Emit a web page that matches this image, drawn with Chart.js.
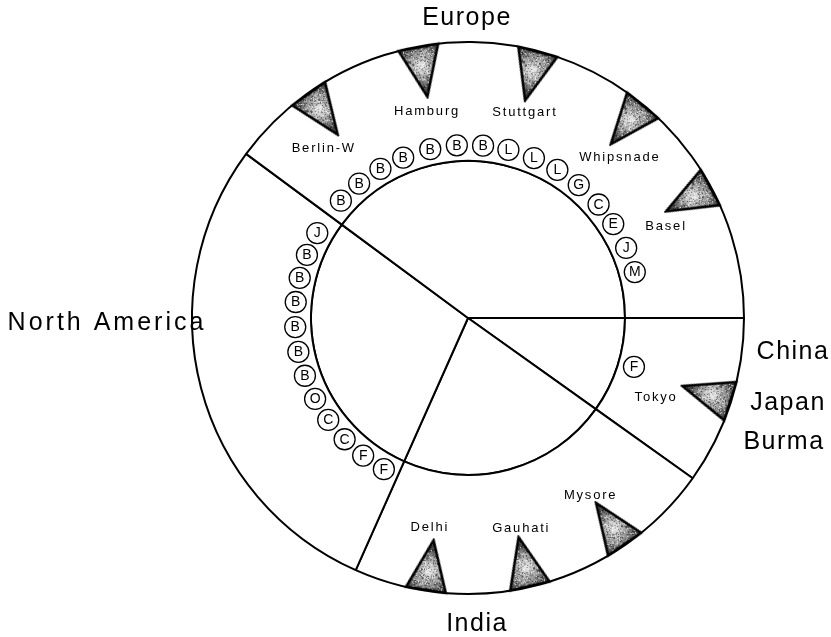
<!DOCTYPE html>
<html>
<head>
<meta charset="utf-8">
<script src="https://cdn.jsdelivr.net/npm/chart.js@4.4.0/dist/chart.umd.min.js"></script>
<style>
html, body { margin: 0; padding: 0; background: #fff; }
#wrap { position: relative; width: 831px; height: 637px; }
#wrap canvas { position: absolute; left: 0; top: 0; }
</style>
</head>
<body>
<div id="wrap">
  <canvas id="ring" width="831" height="637"></canvas>
  <canvas id="marks" width="831" height="637"></canvas>
</div>
<script>
// Zoo ring diagram: regions as sectors, zoos as triangles, animals as circled letters

// Regions, clockwise from 3 o'clock, and the share of the ring each one takes (degrees)
const regions = ['China / Japan / Burma', 'India', 'North America', 'Europe'];
const regionSpan = [35.5, 78.5, 102.5, 143.5];

// Zoos (triangles) and where they sit round the ring (degrees, anticlockwise from 3 o'clock)
const zoos = ['Berlin-W', 'Hamburg', 'Stuttgart', 'Whipsnade', 'Basel', 'Tokyo', 'Delhi', 'Gauhati', 'Mysore'];
const zooAngle = [125.4, 100.4, 75.3, 50.6, 28.3, -17.6, 261.2, 283, 304.7];

// Circled letters round the inner circle
const europeLetters = ['B', 'B', 'B', 'B', 'B', 'B', 'B', 'L', 'L', 'L', 'G', 'C', 'E', 'J', 'M'];
const europeAngle = [137.3, 129, 120.4, 112, 102.6, 93.7, 85, 76.5, 67.6, 58.9, 50.2, 41, 32.9, 23.9, 15.4];
const americaLetters = ['J', 'B', 'B', 'B', 'B', 'B', 'B', 'O', 'C', 'C', 'F', 'F'];
const americaAngle = [150.6, 158.6, 166.6, 174.7, 183, 191.3, 199.5, 207.9, 216.1, 224.5, 232.7, 240.9];
const asiaLetters = ['F'];
const asiaAngle = [343.6];

// Layout (pixels)
const W = 831, H = 637;
const CX = 468, CY = 318;
const R_OUT = 276, R_IN = 157;
const R_TAG = 173;   // ring of circled letters
const R_TRI = 250;   // centre of the triangles
// zoo name placement: [angle, radius]
const zooLabelPos = [[130.3, 223], [101.2, 211], [74.5, 213], [46.6, 221], [24.7, 218], [-22.8, 204], [259.7, 213], [284.2, 217], [304.6, 216]];
const regionLabels = [
  { text: 'Europe', x: 467, y: 18, sp: 1.5 },
  { text: 'North America', x: 107, y: 323, sp: 3 },
  { text: 'China', x: 793, y: 352, sp: 1.5 },
  { text: 'Japan', x: 788, y: 403, sp: 1.5 },
  { text: 'Burma', x: 784, y: 442, sp: 1.5 },
  { text: 'India', x: 477, y: 624, sp: 1.5 }
];

const FONT = '"Liberation Sans", Arial, sans-serif';

const polar = (deg, r) => ({ x: r * Math.cos(deg * Math.PI / 180), y: r * Math.sin(deg * Math.PI / 180) });

// stippled grey triangle, apex up
function makeTriangle() {
  const w = 40, h = 50, p = 2;
  const c = document.createElement('canvas');
  c.width = w + 2 * p; c.height = h + 2 * p;
  const g = c.getContext('2d');
  const path = () => {
    g.beginPath();
    g.moveTo(c.width / 2, p);
    g.lineTo(w + p, h + p);
    g.lineTo(p, h + p);
    g.closePath();
  };
  path();
  g.save();
  g.clip();
  const grad = g.createRadialGradient(c.width / 2, h * 0.66, 2, c.width / 2, h * 0.66, 24);
  grad.addColorStop(0, '#e2e2e2');
  grad.addColorStop(1, '#4a4a4a');
  g.fillStyle = grad;
  g.fillRect(0, 0, c.width, c.height);
  for (let y = 0; y < c.height; y++) {
    for (let x = 0; x < c.width; x++) {
      const s = Math.sin(x * 12.9898 + y * 78.233) * 43758.5453;
      const f = s - Math.floor(s);
      if (f < 0.22) { g.fillStyle = 'rgba(0,0,0,0.5)'; g.fillRect(x, y, 1, 1); }
      else if (f > 0.86) { g.fillStyle = 'rgba(255,255,255,0.7)'; g.fillRect(x, y, 1, 1); }
    }
  }
  g.restore();
  path();
  g.lineWidth = 2.6;
  g.strokeStyle = '#000';
  g.lineJoin = 'miter';
  g.stroke();
  return c;
}
const triImg = makeTriangle();

// Sectors: two pie rings (outer band and inner disc) share the same split
new Chart(document.getElementById('ring'), {
  type: 'pie',
  data: {
    labels: regions,
    datasets: [
      { data: regionSpan, weight: R_OUT - R_IN, backgroundColor: '#fff', borderColor: '#000', borderWidth: 2 },
      { data: regionSpan, weight: R_IN, backgroundColor: '#fff', borderColor: '#000', borderWidth: 2 }
    ]
  },
  options: {
    responsive: false,
    animation: false,
    events: [],
    rotation: 90,
    radius: R_OUT,
    layout: { padding: { left: 2 * CX - W, right: 0, top: 0, bottom: H - 2 * CY } },
    plugins: { legend: { display: false }, tooltip: { enabled: false } }
  }
});

const tagLetters = [...europeLetters, ...americaLetters, ...asiaLetters];
const tagAngle = [...europeAngle, ...americaAngle, ...asiaAngle];

const textPlugin = {
  id: 'texts',
  afterDatasetsDraw(chart) {
    const ctx = chart.ctx;
    const sx = chart.scales.x, sy = chart.scales.y;
    ctx.save();
    ctx.fillStyle = '#000';
    ctx.textAlign = 'center';
    ctx.textBaseline = 'middle';

    // letters inside the circles
    ctx.font = '14px ' + FONT;
    chart.getDatasetMeta(1).data.forEach((pt, i) => {
      ctx.fillText(tagLetters[i], pt.x, pt.y + 0.5);
    });

    // zoo names
    ctx.font = '13px ' + FONT;
    ctx.letterSpacing = '1.8px';
    zoos.forEach((name, i) => {
      const q = polar(zooLabelPos[i][0], zooLabelPos[i][1]);
      ctx.fillText(name, sx.getPixelForValue(q.x), sy.getPixelForValue(q.y));
    });

    // region names
    ctx.font = '25px ' + FONT;
    regionLabels.forEach(l => {
      ctx.letterSpacing = l.sp + 'px';
      ctx.fillText(l.text, l.x, l.y);
    });
    ctx.restore();
  }
};

new Chart(document.getElementById('marks'), {
  type: 'scatter',
  data: {
    datasets: [
      {
        label: 'Zoos',
        data: zooAngle.map(a => polar(a, R_TRI)),
        pointStyle: triImg,
        rotation: zooAngle.map(a => -90 - a),
        pointRadius: 20,
        clip: false
      },
      {
        label: 'Animals',
        data: tagAngle.map(a => polar(a, R_TAG)),
        pointStyle: 'circle',
        pointRadius: 10.5,
        pointBackgroundColor: '#fff',
        pointBorderColor: '#000',
        pointBorderWidth: 1.3,
        clip: false
      }
    ]
  },
  options: {
    responsive: false,
    animation: false,
    events: [],
    layout: { padding: 0, autoPadding: false },
    scales: {
      x: { type: 'linear', display: false, min: -CX, max: W - CX },
      y: { type: 'linear', display: false, min: -(H - CY), max: CY }
    },
    plugins: { legend: { display: false }, tooltip: { enabled: false } }
  },
  plugins: [textPlugin]
});
</script>
</body>
</html>
